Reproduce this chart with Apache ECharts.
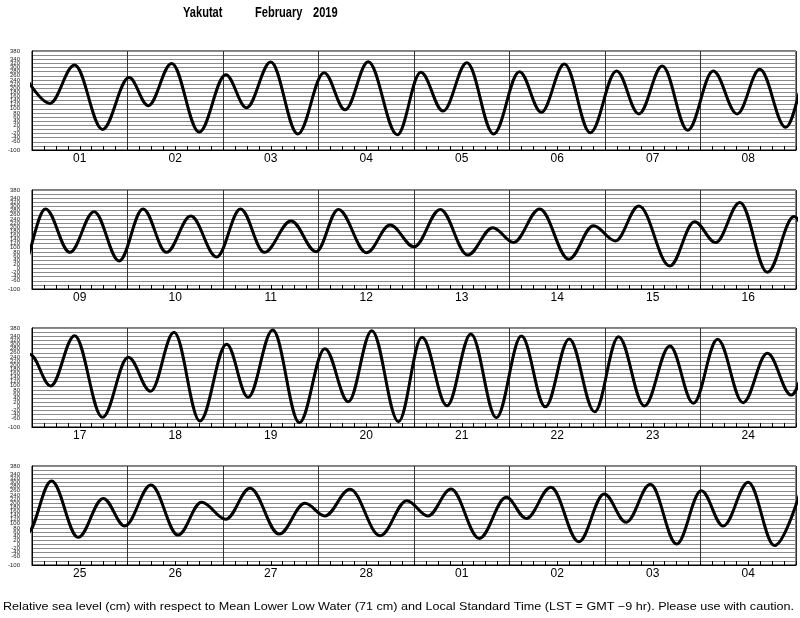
<!DOCTYPE html>
<html>
<head>
<meta charset="utf-8">
<script src="https://cdn.jsdelivr.net/npm/echarts@6.0.0/dist/echarts.min.js"></script>
<style>html,body{margin:0;padding:0;background:#fff;}#chart{width:800px;height:618px;}</style>
</head>
<body>
<div id="chart"></div>
<script>
// ---- data ----
const stationName = 'Yakutat';
const monthName = 'February';
const yearText = '2019';
const footerText = 'Relative sea level (cm) with respect to Mean Lower Low Water (71 cm) and Local Standard Time (LST = GMT \u22129 hr). Please use with caution.';
const dayLabels = ['01','02','03','04','05','06','07','08','09','10','11','12','13','14','15','16',
                   '17','18','19','20','21','22','23','24','25','26','27','28','01','02','03','04'];
const panelStartHours = [0, 192, 384, 576];
const yTicks = { min: -100, max: 380, step: 20 };
// times of high/low water, hours since Feb 1 00:00 LST
const extremaHours = [
  -1.2, 4.45, 10.7, 17.7, 24.4, 29.2, 35.1, 42.0, 48.7, 53.9, 60.0, 66.8, 73.4, 78.7, 84.5, 91.8,
  97.7, 103.3, 109.3, 116.0, 122.5, 128.0, 133.8, 140.3, 146.9, 152.5, 158.4, 164.8, 171.2, 177.2, 182.9, 189.4,
  195.4, 201.5, 207.6, 213.9, 219.9, 225.8, 231.9, 238.4, 244.4, 250.4, 257.1, 263.4, 269.0, 276.1, 282.0, 288.0,
  294.6, 301.5, 307.8, 313.0, 319.6, 326.9, 333.1, 338.6, 344.5, 352.3, 358.5, 363.8, 369.9, 376.8, 383.5,
  388.7, 394.7, 401.7, 408.2, 413.8, 419.7, 426.2, 432.9, 438.3, 444.5, 451.2, 457.6, 463.5, 469.4, 476.1,
  482.0, 488.3, 494.3, 500.7, 507.0, 513.0, 519.0, 525.4, 531.4, 537.9, 544.3, 550.2, 556.3, 562.7, 568.8, 574.8,
  580.9, 587.6, 593.9, 599.3, 605.9, 612.7, 618.6, 624.7, 630.8, 638.1, 644.6, 649.6, 655.9, 663.5,
  670.2, 675.5, 681.3, 688.4, 695.2, 700.2, 706.4, 713.4, 719.8, 725.3, 731.4, 738.0, 744.2, 749.7, 756.0, 762.6, 769.5
];
// sea level at those times (cm)
const extremaLevels = [
  240, 126, 312, 0, 251, 115, 320, -13, 265, 105, 327, -22, 275, 95, 328, -26,
  277, 89, 323, -22, 280, 83, 317, -16, 283, 75, 307, -4, 283, 75, 291, 10,
  288, 78, 275, 36, 288, 78, 254, 55, 288, 78, 230, 81, 286, 76, 210, 105,
  286, 65, 197, 126, 288, 44, 207, 133, 302, 12, 226, 125, 320, -19, 251,
  99, 343, -53, 238, 73, 359, -71, 301, 44, 370, -79, 280, 23, 367, -74,
  335, 3, 351, -55, 341, -2, 327, -26, 338, 2, 293, 15, 325, 18, 257, 55,
  307, 34, 223, 89, 288, 45, 204, 122, 272, 50, 199, 138, 267, 42,
  212, 138, 268, 29, 228, 126, 277, 13, 244, 107, 291, 2, 260, 89, 301, -6, 280
];

// ---- layout ----
const gridTops = [51, 190, 328, 466];
const gridH = 99, gridLeft = 32, gridRight = 4;

const seriesData = extremaHours.map((h, i) => [h, extremaLevels[i]]);

const grids = [], xAxes = [], yAxes = [], series = [];
panelStartHours.forEach((start, p) => {
  grids.push({
    left: gridLeft, right: gridRight, top: gridTops[p], height: gridH,
    show: true, borderColor: '#000', borderWidth: 1, backgroundColor: 'transparent',
    containLabel: false, outerBoundsMode: 'none'
  });
  // main axis: 3-hour ticks, day labels
  xAxes.push({
    type: 'value', gridIndex: p, min: start, max: start + 192, interval: 3,
    position: 'bottom',
    axisLine: { show: true, onZero: false, lineStyle: { color: '#000', width: 1 } },
    axisTick: { show: true, inside: true, length: 4, lineStyle: { color: '#000', width: 1 } },
    axisLabel: {
      show: true, margin: 3, color: '#000', fontSize: 12, fontFamily: 'Liberation Sans, Arial, sans-serif',
      formatter: v => (((v - start) % 24) === 12 ? dayLabels[Math.floor(v / 24)] : '')
    },
    splitLine: { show: false }
  });
  // day separators
  xAxes.push({
    type: 'value', gridIndex: p, min: start, max: start + 192, interval: 24,
    position: 'top',
    axisLine: { show: false, onZero: false }, axisTick: { show: false }, axisLabel: { show: false },
    splitLine: { show: true, lineStyle: { color: '#333', width: 1 } }
  });
  yAxes.push({
    type: 'value', gridIndex: p, min: yTicks.min, max: yTicks.max, interval: yTicks.step,
    axisLine: { show: true, onZero: false, lineStyle: { color: '#000' } },
    axisTick: { show: false },
    axisLabel: { show: true, showMinLabel: true, showMaxLabel: true, hideOverlap: false,
                 fontSize: 6, margin: 12, color: '#222', fontFamily: 'Liberation Sans, Arial, sans-serif' },
    splitLine: { show: true, lineStyle: { color: '#8a8a8a', width: 1 } }
  });
  series.push({
    type: 'line', xAxisIndex: p * 2, yAxisIndex: p, data: seriesData,
    smooth: 0.36, smoothMonotone: 'x', showSymbol: false, symbol: 'none', clip: true,
    lineStyle: { color: '#000', width: 3 }, silent: true, animation: false, z: 5
  });
});

// footer scaling to reference width
const cv = document.createElement('canvas').getContext('2d');
cv.font = '11px "Liberation Sans"';
const footW = cv.measureText(footerText).width;
const footScale = 791 / footW;

const chart = echarts.init(document.getElementById('chart'), null, { renderer: 'canvas' });
chart.setOption({
  animation: false,
  backgroundColor: '#fff',
  grid: grids, xAxis: xAxes, yAxis: yAxes, series: series,
  graphic: [
    { type: 'text', x: 183, y: 5, scaleX: 0.74, style: { text: stationName, font: 'bold 15px "Liberation Sans"', fill: '#000', textVerticalAlign: 'top' } },
    { type: 'text', x: 255, y: 5, scaleX: 0.74, style: { text: monthName, font: 'bold 15px "Liberation Sans"', fill: '#000', textVerticalAlign: 'top' } },
    { type: 'text', x: 313, y: 5, scaleX: 0.74, style: { text: yearText, font: 'bold 15px "Liberation Sans"', fill: '#000', textVerticalAlign: 'top' } },
    { type: 'text', x: 3, y: 607, scaleX: footScale, style: { text: footerText, font: '11px "Liberation Sans"', fill: '#000', textVerticalAlign: 'middle' } }
  ]
});
</script>
</body>
</html>
